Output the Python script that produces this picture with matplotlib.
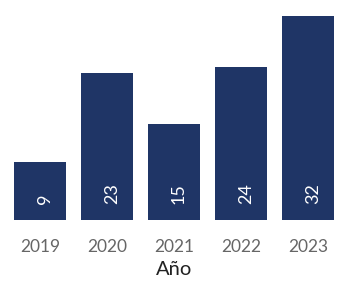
import matplotlib.pyplot as plt

years = ["2019", "2020", "2021", "2022", "2023"]
counts = [9, 23, 15, 24, 32]

bar_color = "#1f3566"

plt.rcParams["font.family"] = ["Lato", "DejaVu Sans"]

fig = plt.figure(figsize=(3.47, 2.84), dpi=100)
ax = fig.add_axes([14 / 347, 0.227, 320 / 347, 0.7165])

pos = list(range(len(years)))
ax.bar(pos, counts, width=0.776, color=bar_color)

for x, v in zip(pos, counts):
    ax.annotate(str(v), (x, 0), xytext=(3.5, 11.5), textcoords="offset points",
                rotation=90, ha="center", va="bottom", color="white", fontsize=13)

ax.set_xlim(-0.388, len(years) - 1 + 0.388)
ax.set_ylim(0, 32)
ax.set_xticks(pos)
ax.set_xticklabels(years, fontsize=12.5, color="#666666")
ax.tick_params(axis="x", length=0, pad=14)
ax.set_yticks([])
for s in ax.spines.values():
    s.set_visible(False)
ax.set_xlabel("Año", fontsize=14.5, color="#222222", labelpad=4)

plt.savefig("out.png")
